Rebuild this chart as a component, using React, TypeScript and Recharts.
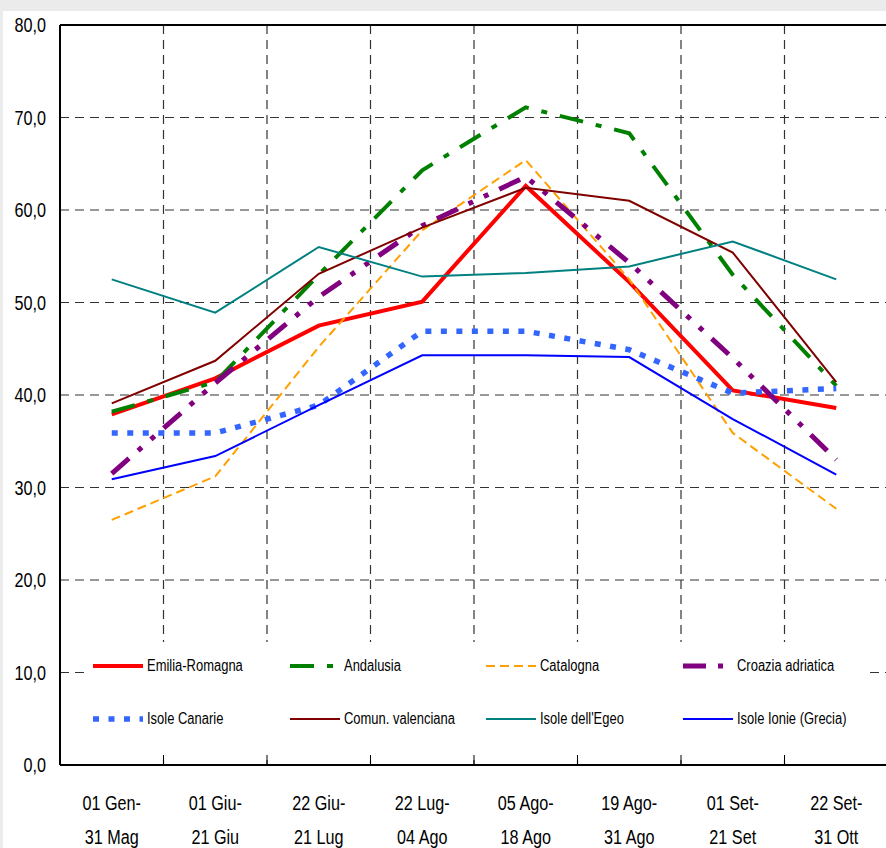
import React from 'react';
import { LineChart, Line, XAxis, YAxis, CartesianGrid, ReferenceLine, Legend } from 'recharts';

const periodStart = ['01 Gen-', '01 Giu-', '22 Giu-', '22 Lug-', '05 Ago-', '19 Ago-', '01 Set-', '22 Set-'];
const periodEnd = ['31 Mag', '21 Giu', '21 Lug', '04 Ago', '18 Ago', '31 Ago', '21 Set', '31 Ott'];

const emiliaRomagna = [37.9, 41.8, 47.5, 50.1, 62.6, 52.2, 40.5, 38.6];
const andalusia = [38.2, 41.4, 53.0, 64.3, 71.1, 68.3, 53.0, 41.0];
const catalogna = [26.5, 31.2, 45.2, 57.8, 65.4, 52.5, 35.9, 27.7];
const croaziaAdriatica = [31.5, 41.3, 50.6, 58.3, 63.6, 54.3, 44.0, 33.0];
const isoleCanarie = [35.9, 35.9, 38.9, 46.9, 46.9, 44.9, 40.2, 40.7];
const comunValenciana = [39.1, 43.7, 53.1, 58.1, 62.4, 61.0, 55.4, 41.4];
const isoleEgeo = [52.5, 48.9, 56.0, 52.8, 53.2, 53.9, 56.6, 52.5];
const isoleIonie = [30.9, 33.4, 38.9, 44.3, 44.3, 44.1, 37.4, 31.4];

const yTicks = [0, 10, 20, 30, 40, 50, 60, 70, 80];

const FONT = "'Liberation Sans', Arial, sans-serif";
const NARROW = 0.81;

const series = [
  { key: 'er', name: 'Emilia-Romagna', values: emiliaRomagna, color: '#ff0000', width: 4, dash: undefined },
  { key: 'an', name: 'Andalusia', values: andalusia, color: '#008000', width: 4, dash: '24 13 6 13' },
  { key: 'ca', name: 'Catalogna', values: catalogna, color: '#ffa000', width: 2, dash: '9 5' },
  { key: 'cr', name: 'Croazia adriatica', values: croaziaAdriatica, color: '#800080', width: 5, dash: '23 12 5 12 5 12' },
  { key: 'ic', name: 'Isole Canarie', values: isoleCanarie, color: '#3366ff', width: 5.5, dash: '6 9.5' },
  { key: 'cv', name: 'Comun. valenciana', values: comunValenciana, color: '#800000', width: 2, dash: undefined },
  { key: 'eg', name: "Isole dell'Egeo", values: isoleEgeo, color: '#008080', width: 2, dash: undefined },
  { key: 'io', name: 'Isole Ionie (Grecia)', values: isoleIonie, color: '#0000ff', width: 2, dash: undefined },
];

const categories = periodStart.map((s, i) => s + '|' + periodEnd[i]);

const data = categories.map((cat, i) => {
  const row: Record<string, any> = { cat };
  series.forEach((sr) => {
    row[sr.key] = sr.values[i];
  });
  return row;
});

const XTick = (props: any) => {
  const { x, y, payload } = props;
  const [a, b] = String(payload.value).split('|');
  return (
    <g transform={`translate(${x},${y})`}>
      <text transform={`scale(${NARROW},1)`} x={0} y={0} textAnchor="middle" fontSize={20} fontFamily={FONT} fill="#000">
        <tspan x={0} dy={45}>{a}</tspan>
        <tspan x={0} dy={34}>{b}</tspan>
      </text>
    </g>
  );
};

const YTick = (props: any) => {
  const { x, y, payload } = props;
  return (
    <g transform={`translate(${x},${y})`}>
      <text transform={`scale(${NARROW},1)`} x={0} y={0} dy="0.36em" textAnchor="end" fontSize={20} fontFamily={FONT} fill="#000">
        {Number(payload.value).toFixed(1).replace('.', ',')}
      </text>
    </g>
  );
};

const renderLegend = () => (
  <div style={{ position: 'relative', width: 785, height: 113, background: '#fff', fontFamily: FONT }}>
    {series.map((s, i) => (
      <div
        key={s.key}
        style={{
          position: 'absolute',
          left: 8 + (i % 4) * 196.5,
          top: Math.floor(i / 4) * 53,
          height: 48,
          display: 'flex',
          alignItems: 'center',
          whiteSpace: 'nowrap',
        }}
      >
        <svg width={50} height={10} style={{ display: 'block' }}>
          <line x1={0} y1={5} x2={50} y2={5} stroke={s.color} strokeWidth={s.width} strokeDasharray={s.dash} />
        </svg>
        <span
          style={{
            marginLeft: 4,
            fontSize: 16,
            color: '#000',
            display: 'inline-block',
            transform: `scaleX(${NARROW})`,
            transformOrigin: 'left center',
          }}
        >
          {s.name}
        </span>
      </div>
    ))}
  </div>
);

const bandBoundaries = ({ offset }: any) =>
  categories.slice(1).map((_, i) => offset.left + (offset.width * (i + 1)) / categories.length);

export default function App() {
  return (
    <div style={{ position: 'absolute', left: 0, top: 0, width: 886, height: 848, overflow: 'hidden', background: '#ebebeb' }}>
      <div style={{ position: 'absolute', left: 3, top: 11, right: 0, bottom: 0, background: '#fff' }} />
      <div style={{ position: 'absolute', left: 0, top: 0 }}>
        <LineChart width={890} height={848} data={data} margin={{ top: 25, right: 2, bottom: 0, left: 0 }}>
          <CartesianGrid
            stroke="#333"
            strokeWidth={1.2}
            strokeDasharray="9 6"
            horizontal={true}
            vertical={true}
            verticalCoordinatesGenerator={bandBoundaries}
          />
          <XAxis
            dataKey="cat"
            scale="band"
            height={83}
            axisLine={{ stroke: '#000', strokeWidth: 2 }}
            tickLine={false}
            tickSize={0}
            tickMargin={0}
            tick={<XTick />}
            interval={0}
          />
          <YAxis
            domain={[0, 80]}
            ticks={yTicks}
            width={60}
            axisLine={{ stroke: '#000', strokeWidth: 2 }}
            tickLine={false}
            tickSize={0}
            tickMargin={14}
            tick={<YTick />}
            interval={0}
          />
          <ReferenceLine y={80} stroke="#000" strokeWidth={2} />
          {categories.slice(1).map((c) => (
            <ReferenceLine
              key={'t' + c}
              segment={[
                { x: c, y: 0 },
                { x: c, y: 1.1 },
              ]}
              position="start"
              stroke="#000"
              strokeWidth={1}
            />
          ))}
          {series.map((s) => (
            <Line
              key={s.key}
              dataKey={s.key}
              name={s.name}
              stroke={s.color}
              strokeWidth={s.width}
              strokeDasharray={s.dash}
              strokeLinecap="butt"
              dot={false}
              activeDot={false}
              isAnimationActive={false}
            />
          ))}
          <Legend
            layout="horizontal"
            verticalAlign="middle"
            align="center"
            content={renderLegend}
            wrapperStyle={{ left: 85, top: 642, width: 785, height: 113 }}
          />
        </LineChart>
      </div>
    </div>
  );
}
